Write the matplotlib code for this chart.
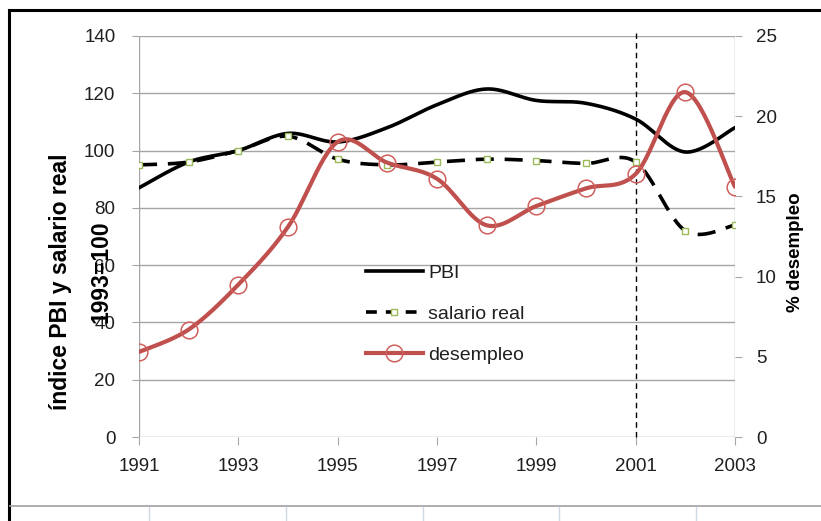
import numpy as np
import matplotlib
matplotlib.use("Agg")
import matplotlib.pyplot as plt
from matplotlib.lines import Line2D

years = [1991, 1992, 1993, 1994, 1995, 1996, 1997, 1998, 1999, 2000, 2001, 2002, 2003]
pbi = [87, 96, 100, 106, 103, 108, 116, 121.5, 117.5, 116.5, 111, 99.5, 108]
salario = [95, 96, 100, 105, 97, 95, 96, 97, 96.5, 95.5, 96, 72, 74]
desempleo = [5.3, 6.7, 9.5, 13.1, 18.4, 17.1, 16.1, 13.2, 14.4, 15.5, 16.4, 21.5, 15.6]
xticks = [1991, 1993, 1995, 1997, 1999, 2001, 2003]
left_ticks = [0, 20, 40, 60, 80, 100, 120, 140]
right_ticks = [0, 5, 10, 15, 20, 25]


def smooth(x, y, n=30):
    """Excel-like smoothed line (Catmull-Rom Bezier) through the points."""
    x = np.asarray(x, float)
    y = np.asarray(y, float)
    px = np.concatenate([[x[0]], x, [x[-1]]])
    py = np.concatenate([[y[0]], y, [y[-1]]])
    xs, ys = [], []
    t = np.linspace(0, 1, n)
    for i in range(1, len(px) - 2):
        p0 = np.array([px[i], py[i]])
        p3 = np.array([px[i + 1], py[i + 1]])
        c1 = p0 + (np.array([px[i + 1], py[i + 1]]) - np.array([px[i - 1], py[i - 1]])) / 6
        c2 = p3 - (np.array([px[i + 2], py[i + 2]]) - np.array([px[i], py[i]])) / 6
        b = ((1 - t) ** 3)[:, None] * p0 + (3 * (1 - t) ** 2 * t)[:, None] * c1 \
            + (3 * (1 - t) * t ** 2)[:, None] * c2 + (t ** 3)[:, None] * p3
        xs.extend(b[:, 0])
        ys.extend(b[:, 1])
    return np.array(xs), np.array(ys)


plt.rcParams['font.family'] = ['Liberation Sans', 'DejaVu Sans']

fig = plt.figure(figsize=(8.21, 5.21), dpi=100)
ax = fig.add_axes([139 / 821, 1 - 437 / 521, (735 - 139) / 821, (437 - 36) / 521])
ax2 = ax.twinx()

grid_c = '#a6a6a6'
txt_c = '#1f1f1f'
ax.set_xlim(1991, 2003)
ax.set_ylim(0, 140)
ax2.set_ylim(0, 25)
for a in (ax, ax2):
    for s in a.spines.values():
        s.set_visible(False)
ax.set_yticks(left_ticks)
ax.yaxis.grid(True, color=grid_c, lw=1)
ax.set_axisbelow(True)
ax.axvline(1991, color=grid_c, lw=1, zorder=0)
ax.axvline(2003, color=grid_c, lw=1, zorder=0)
ax.set_xticks(xticks)
ax.tick_params(axis='x', length=6, color=grid_c, labelsize=13.5, pad=9, labelcolor=txt_c)
ax.tick_params(axis='y', length=5, color=grid_c, labelsize=13.5, pad=12, labelcolor=txt_c)
ax2.set_yticks(right_ticks)
ax2.tick_params(axis='y', length=5, color=grid_c, labelsize=13.5, pad=10, labelcolor=txt_c)

# vertical dashed line at 2001
ax.plot([2001, 2001], [0, 141], color='black', lw=1, ls=(0, (4, 3)), clip_on=False, zorder=2)

# PBI
sx, sy = smooth(years, pbi)
ax.plot(sx, sy, color='black', lw=2.6, solid_capstyle='round', zorder=3)
# salario real
sx, sy = smooth(years, salario)
ax.plot(sx, sy, color='black', lw=2.6, ls=(0, (5, 3)), zorder=3)
ax.plot(years, salario, ls='none', marker='s', ms=4.5, mfc='white', mec='#9bbb59', mew=1, zorder=4)
# desempleo
sx, sy = smooth(years, desempleo)
ax2.plot(sx, sy, color='#c0504d', lw=3, solid_capstyle='round', zorder=3)
ax2.plot(years, desempleo, ls='none', marker='o', ms=12, mfc='none', mec='#d0605d', mew=1.1, zorder=4)

handles = [
    Line2D([], [], color='black', lw=2.6),
    Line2D([], [], color='black', lw=2.6, ls=(0, (3, 2.5)), marker='s', ms=4, mfc='white', mec='#9bbb59', mew=1),
    Line2D([], [], color='#c0504d', lw=3, marker='o', ms=12, mfc='none', mec='#d0605d', mew=1.1),
]
leg = ax2.legend(handles, ['PBI', 'salario real', 'desempleo'], loc='upper left',
                 bbox_to_anchor=(0.365, 0.455), frameon=False, fontsize=14,
                 labelspacing=1.2, handlelength=2.9, handletextpad=0.3, borderpad=0)
for t in leg.get_texts():
    t.set_color(txt_c)

# axis titles
fig.text(60 / 821, 1 - 282 / 521, 'índice PBI y salario real', rotation=90, ha='center', va='center',
         fontsize=16.5, fontweight='bold', color='black')
fig.text(101 / 821, 1 - 272 / 521, '1993=100', rotation=90, ha='center', va='center',
         fontsize=16.5, fontweight='bold', color='black')
fig.text(795 / 821, 1 - 252 / 521, '% desempleo', rotation=90, ha='center', va='center',
         fontsize=13.5, fontweight='bold', color='black')

# outer frame and sheet lines
fig.add_artist(Line2D([9 / 821, 9 / 821], [0, 1 - 10 / 521], color='black', lw=2.2, transform=fig.transFigure))
fig.add_artist(Line2D([9 / 821, 1], [1 - 10 / 521, 1 - 10 / 521], color='black', lw=2.2, transform=fig.transFigure))
fig.add_artist(Line2D([10 / 821, 1], [1 - 506 / 521, 1 - 506 / 521], color='#a0a0a0', lw=1.2, transform=fig.transFigure))
for xv in [149, 286, 423, 559, 696]:
    fig.add_artist(Line2D([xv / 821, xv / 821], [0, 1 - 507 / 521], color='#d0d7e5', lw=1, transform=fig.transFigure))

fig.savefig('out.png', dpi=100)
